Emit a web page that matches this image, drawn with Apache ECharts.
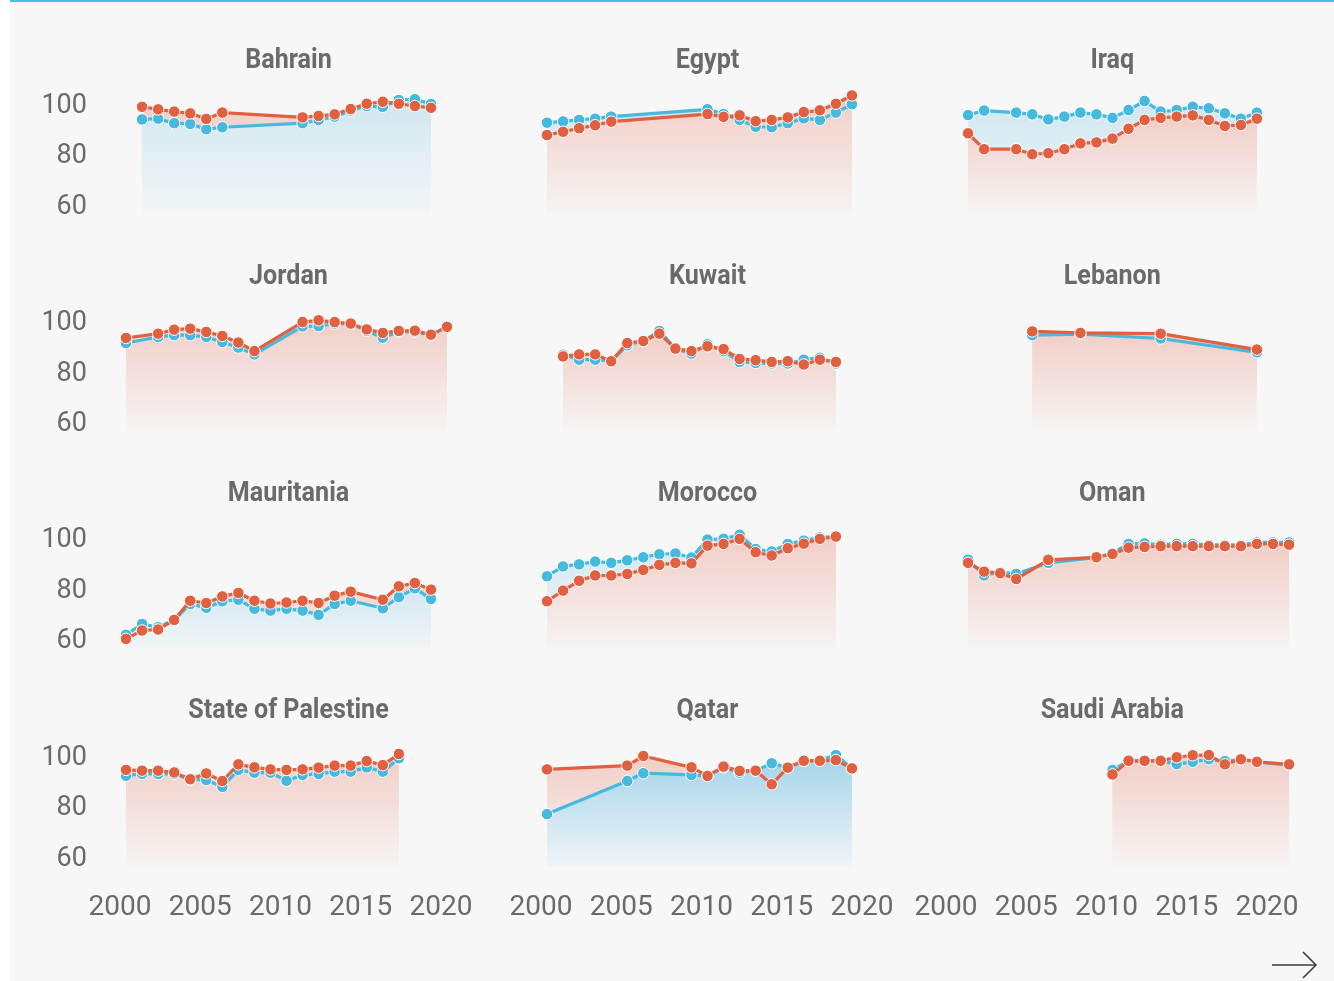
<!DOCTYPE html>
<html>
<head>
<meta charset="utf-8">
<script src="https://cdn.jsdelivr.net/npm/echarts@6/dist/echarts.min.js"></script>
<style>
  html, body { margin: 0; padding: 0; background: #ffffff; }
  #chart {
    width: 1334px; height: 981px;
    background:
      linear-gradient(#4bbfe3, #4bbfe3) 10px 0 / 1324px 2px no-repeat,
      linear-gradient(to right, #ffffff 10px, #f7f7f7 10px);
  }
</style>
</head>
<body>
<div id="chart"></div>
<script>
// Axis ticks
const xTickYears = [2000, 2005, 2010, 2015, 2020];
const yTickValues = [60, 80, 100];

// Country data: years, blue series, red series
const bahrainYears = [2001, 2002, 2003, 2004, 2005, 2006, 2011, 2012, 2013, 2014, 2015, 2016, 2017, 2018, 2019];
const bahrainBlue  = [93.5, 93.8, 92.0, 91.7, 89.6, 90.4, 92.0, 93.3, 94.6, 97.0, 98.8, 98.5, 101.2, 101.5, 99.6];
const bahrainRed   = [98.5, 97.5, 96.6, 95.9, 93.7, 96.2, 94.3, 94.9, 95.5, 97.6, 99.7, 100.5, 99.7, 98.8, 98.1];

const egyptYears = [2000, 2001, 2002, 2003, 2004, 2010, 2011, 2012, 2013, 2014, 2015, 2016, 2017, 2018, 2019];
const egyptBlue  = [92.2, 92.7, 93.3, 93.8, 94.6, 97.5, 95.6, 93.3, 90.6, 90.4, 92.0, 93.9, 93.3, 96.2, 99.5];
const egyptRed   = [87.3, 88.6, 90.0, 91.2, 92.6, 95.6, 94.5, 95.1, 92.8, 93.3, 94.3, 96.4, 97.1, 99.7, 103.0];

const iraqYears = [2001, 2002, 2004, 2005, 2006, 2007, 2008, 2009, 2010, 2011, 2012, 2013, 2014, 2015, 2016, 2017, 2018, 2019];
const iraqBlue  = [95.2, 97.0, 96.2, 95.5, 93.5, 94.6, 96.2, 95.5, 94.1, 97.2, 100.8, 96.6, 97.2, 98.5, 97.9, 95.9, 93.8, 96.2];
const iraqRed   = [88.0, 81.7, 81.7, 79.7, 80.1, 81.7, 84.0, 84.4, 85.9, 89.8, 93.3, 94.1, 94.6, 95.1, 93.3, 90.9, 91.3, 93.8];

const jordanYears = [2000, 2002, 2003, 2004, 2005, 2006, 2007, 2008, 2011, 2012, 2013, 2014, 2015, 2016, 2017, 2018, 2019, 2020];
const jordanBlue  = [91.0, 93.4, 94.1, 94.1, 93.4, 91.4, 89.2, 86.5, 97.6, 97.7, 98.7, 98.7, 95.8, 93.1, 95.5, 95.4, 94.1, 97.4];
const jordanRed   = [93.0, 94.7, 96.3, 96.7, 95.4, 93.8, 91.2, 87.8, 99.3, 100.0, 99.3, 98.7, 96.4, 95.0, 95.8, 95.9, 94.3, 97.4];

const kuwaitYears = [2001, 2002, 2003, 2004, 2005, 2006, 2007, 2008, 2009, 2010, 2011, 2012, 2013, 2014, 2015, 2016, 2017, 2018];
const kuwaitBlue  = [86.4, 84.4, 84.4, 83.8, 90.1, 91.8, 95.8, 88.8, 86.8, 90.5, 87.8, 83.5, 83.1, 82.9, 82.9, 84.4, 85.2, 82.9];
const kuwaitRed   = [85.7, 86.5, 86.5, 83.8, 91.0, 91.8, 94.7, 88.8, 87.8, 89.7, 88.6, 84.7, 84.2, 83.5, 83.8, 82.5, 84.4, 83.5];

const lebanonYears = [2005, 2008, 2013, 2019];
const lebanonBlue  = [94.1, 94.5, 92.8, 87.3];
const lebanonRed   = [95.6, 95.0, 94.7, 88.4];

const mauritaniaYears = [2000, 2001, 2002, 2003, 2004, 2005, 2006, 2007, 2008, 2009, 2010, 2011, 2012, 2013, 2014, 2016, 2017, 2018, 2019];
const mauritaniaBlue  = [61.5, 65.8, 64.5, 67.4, 73.7, 72.2, 74.8, 75.4, 71.8, 71.1, 71.8, 71.1, 69.4, 73.7, 75.0, 72.0, 76.4, 79.9, 75.7];
const mauritaniaRed   = [59.9, 63.2, 63.6, 67.4, 75.0, 74.1, 76.7, 78.1, 75.0, 73.9, 74.3, 75.0, 74.1, 77.0, 78.6, 75.4, 80.7, 82.0, 79.4];

const moroccoYears = [2000, 2001, 2002, 2003, 2004, 2005, 2006, 2007, 2008, 2009, 2010, 2011, 2012, 2013, 2014, 2015, 2016, 2017, 2018];
const moroccoBlue  = [84.7, 88.6, 89.4, 90.5, 90.0, 91.0, 92.2, 93.4, 93.7, 92.1, 99.2, 99.5, 101.1, 95.5, 94.5, 97.5, 98.8, 100.1, 100.4];
const moroccoRed   = [74.8, 79.0, 82.9, 85.0, 85.0, 85.6, 87.2, 89.2, 90.0, 89.8, 96.8, 97.5, 99.5, 94.2, 92.9, 95.8, 97.6, 99.5, 100.4];

const omanYears = [2001, 2002, 2003, 2004, 2006, 2009, 2010, 2011, 2012, 2013, 2014, 2015, 2016, 2017, 2018, 2019, 2020, 2021];
const omanBlue  = [91.3, 85.0, 86.3, 85.6, 90.0, 92.2, 93.8, 97.5, 97.7, 97.2, 97.5, 97.5, 97.1, 97.1, 97.1, 98.1, 98.1, 98.1];
const omanRed   = [90.0, 86.5, 85.9, 83.6, 91.2, 92.2, 93.5, 96.0, 96.3, 96.6, 96.6, 96.6, 96.6, 96.6, 96.6, 97.5, 97.5, 97.2];

const palestineYears = [2000, 2001, 2002, 2003, 2004, 2005, 2006, 2007, 2008, 2009, 2010, 2011, 2012, 2013, 2014, 2015, 2016, 2017];
const palestineBlue  = [91.8, 92.5, 92.5, 92.5, 90.4, 90.1, 87.4, 94.1, 93.0, 93.0, 89.8, 92.1, 92.5, 93.4, 93.4, 95.1, 93.4, 98.7];
const palestineRed   = [94.1, 93.8, 93.8, 93.1, 90.4, 92.7, 89.7, 96.3, 95.1, 94.3, 94.1, 94.3, 95.0, 95.8, 95.8, 97.6, 96.0, 100.4];

const qatarYears = [2000, 2005, 2006, 2009, 2010, 2011, 2012, 2013, 2014, 2015, 2016, 2017, 2018, 2019];
const qatarBlue  = [76.6, 89.7, 92.8, 92.1, 91.7, 95.1, 93.0, 93.8, 96.7, 95.0, 97.7, 98.0, 100.0, 94.7];
const qatarRed   = [94.3, 95.8, 99.6, 95.1, 91.7, 95.4, 93.7, 93.8, 88.4, 95.0, 97.7, 97.7, 98.0, 94.7];

const saudiYears = [2010, 2011, 2012, 2013, 2014, 2015, 2016, 2017, 2018, 2019, 2021];
const saudiBlue  = [94.1, 97.7, 97.7, 97.7, 96.4, 97.3, 98.3, 97.6, 98.3, 97.3, 96.0];
const saudiRed   = [92.3, 97.7, 97.7, 97.7, 99.1, 99.9, 100.0, 96.3, 98.3, 97.3, 96.3];

// Panels in reading order (3 columns x 4 rows); blueAreaOnTop picks which fill is drawn above
const panels = [
  { name: 'Bahrain', years: bahrainYears, blue: bahrainBlue, red: bahrainRed, blueAreaOnTop: true },
  { name: 'Egypt', years: egyptYears, blue: egyptBlue, red: egyptRed, blueAreaOnTop: false },
  { name: 'Iraq', years: iraqYears, blue: iraqBlue, red: iraqRed, blueAreaOnTop: false },
  { name: 'Jordan', years: jordanYears, blue: jordanBlue, red: jordanRed, blueAreaOnTop: false },
  { name: 'Kuwait', years: kuwaitYears, blue: kuwaitBlue, red: kuwaitRed, blueAreaOnTop: false },
  { name: 'Lebanon', years: lebanonYears, blue: lebanonBlue, red: lebanonRed, blueAreaOnTop: false },
  { name: 'Mauritania', years: mauritaniaYears, blue: mauritaniaBlue, red: mauritaniaRed, blueAreaOnTop: true },
  { name: 'Morocco', years: moroccoYears, blue: moroccoBlue, red: moroccoRed, blueAreaOnTop: false },
  { name: 'Oman', years: omanYears, blue: omanBlue, red: omanRed, blueAreaOnTop: false },
  { name: 'State of Palestine', years: palestineYears, blue: palestineBlue, red: palestineRed, blueAreaOnTop: false },
  { name: 'Qatar', years: qatarYears, blue: qatarBlue, red: qatarRed, blueAreaOnTop: true, strongBlue: true },
  { name: 'Saudi Arabia', years: saudiYears, blue: saudiBlue, red: saudiRed, blueAreaOnTop: false }
];

// Layout and style
const BLUE = '#46b9df';
const RED = '#e0603f';
const TEXT = '#6a6a6d';
const FONT = "Roboto, 'Noto Sans', sans-serif";
const X_MIN = 1999, X_MAX = 2022;
const Y_MIN = 56, Y_MAX = 104;
const PX_PER_YEAR = 16.05;
const PX_PER_UNIT = 2.525;
const colYear2000 = [126, 547, 952];       // pixel x of year 2000 in each column
const rowY100 = [103, 320.3, 537.6, 755];  // pixel y of value 100 in each row
const titleX = [288.5, 707.5, 1112.3];
const titleY = [61, 277, 494.5, 711.5];

// Opaque vertical fades into the page background
function fade(topColor, bottomColor) {
  return {
    type: 'linear', x: 0, y: 0, x2: 0, y2: 1,
    colorStops: [
      { offset: 0, color: topColor },
      { offset: 1, color: bottomColor }
    ]
  };
}
const RED_FILL = fade('#f2cdc6', '#f6f4f4');
const BLUE_FILL = fade('#d0e7f1', '#f3f5f7');
const BLUE_FILL_STRONG = fade('#a3d4ea', '#f0f4f7');

const grids = [], xAxes = [], yAxes = [], series = [], graphics = [];

panels.forEach((p, i) => {
  const col = i % 3, row = Math.floor(i / 3);
  const left = colYear2000[col] - (2000 - X_MIN) * PX_PER_YEAR;
  const top = rowY100[row] - (Y_MAX - 100) * PX_PER_UNIT;
  grids.push({
    left: left, top: top,
    width: (X_MAX - X_MIN) * PX_PER_YEAR,
    height: (Y_MAX - Y_MIN) * PX_PER_UNIT,
    containLabel: false,
    outerBoundsMode: 'none'
  });
  xAxes.push({
    gridIndex: i, type: 'value', min: X_MIN, max: X_MAX,
    axisLine: { show: false }, axisTick: { show: false }, splitLine: { show: false },
    axisLabel: {
      show: row === 3,
      customValues: xTickYears,
      formatter: v => String(v),
      color: TEXT, fontFamily: FONT, fontSize: 28,
      margin: 28,
      padding: [0, 12, 0, 0]
    }
  });
  yAxes.push({
    gridIndex: i, type: 'value', min: Y_MIN, max: Y_MAX,
    axisLine: { show: false }, axisTick: { show: false }, splitLine: { show: false },
    axisLabel: {
      show: col === 0,
      customValues: yTickValues,
      color: TEXT, fontFamily: FONT, fontSize: 27,
      margin: 23,
      verticalAlign: 'top',
      lineHeight: 6
    }
  });

  const bluePts = p.years.map((y, k) => [y, p.blue[k]]);
  const redPts = p.years.map((y, k) => [y, p.red[k]]);
  const areaBase = {
    type: 'line', xAxisIndex: i, yAxisIndex: i, showSymbol: false, silent: true,
    lineStyle: { width: 0 }
  };
  series.push(Object.assign({}, areaBase, {
    data: bluePts, z: p.blueAreaOnTop ? 2 : 1,
    areaStyle: { origin: 'start', color: p.strongBlue ? BLUE_FILL_STRONG : BLUE_FILL, opacity: 1 }
  }));
  series.push(Object.assign({}, areaBase, {
    data: redPts, z: p.blueAreaOnTop ? 1 : 2,
    areaStyle: { origin: 'start', color: RED_FILL, opacity: 1 }
  }));
  const lineBase = {
    type: 'line', xAxisIndex: i, yAxisIndex: i, symbol: 'circle', symbolSize: 11.5,
    showSymbol: true, silent: true
  };
  series.push(Object.assign({}, lineBase, {
    data: bluePts, z: 3,
    lineStyle: { color: BLUE, width: 3.2 },
    itemStyle: { color: BLUE, borderColor: '#ffffff', borderWidth: 1 }
  }));
  series.push(Object.assign({}, lineBase, {
    data: redPts, z: 4,
    lineStyle: { color: RED, width: 3.2 },
    itemStyle: { color: RED, borderColor: '#ffffff', borderWidth: 1 }
  }));

  graphics.push({
    type: 'text', x: titleX[col], y: titleY[row], silent: true, scaleX: 0.93,
    style: {
      text: p.name, fill: TEXT, align: 'center', verticalAlign: 'middle',
      font: `bold 27px ${FONT}`
    }
  });
});

// Navigation arrow, bottom right
graphics.push({
  type: 'polyline', silent: true,
  shape: { points: [[1272, 965], [1316, 965]] },
  style: { stroke: '#3c3c3c', lineWidth: 1.6, fill: null }
});
graphics.push({
  type: 'polyline', silent: true,
  shape: { points: [[1303, 952], [1316, 965], [1303, 978]] },
  style: { stroke: '#3c3c3c', lineWidth: 1.6, fill: null }
});

const chart = echarts.init(document.getElementById('chart'), null, { renderer: 'canvas' });
chart.setOption({
  backgroundColor: 'transparent',
  animation: false,
  grid: grids,
  xAxis: xAxes,
  yAxis: yAxes,
  series: series,
  graphic: graphics
});
</script>
</body>
</html>
